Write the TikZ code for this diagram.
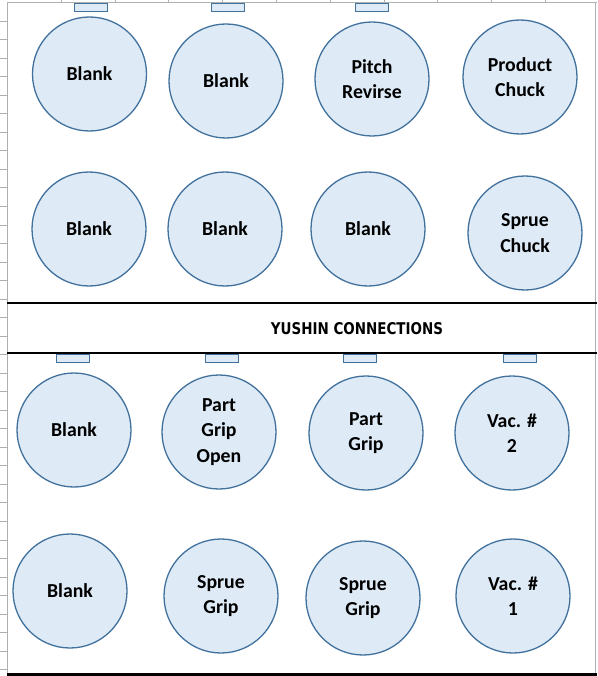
\documentclass[tikz,border=0pt]{standalone}
\usepackage{fontspec}
\setmainfont{Carlito}
\newfontfamily\hdfont{DejaVu Sans Condensed}
\definecolor{cfill}{HTML}{DEEBF7}
\definecolor{cline}{HTML}{41719C}
\definecolor{grid}{HTML}{B0B0B0}
\begin{document}
\begin{tikzpicture}[x=1pt,y=-1pt,
  disc/.style={circle,draw=cline,fill=cfill,line width=1.3pt,minimum size=114pt,inner sep=0pt,
    align=center,font=\fontsize{19.8}{25.5}\selectfont\bfseries,text=black},
  tab/.style={draw=cline,fill=cfill,line width=0.9pt,minimum width=33pt,minimum height=8pt,inner sep=0pt},
  sep/.style={line width=2.4pt,black}]
\useasboundingbox (0,0) rectangle (597,676);
\fill[white] (0,0) rectangle (597,676);
% sheet grid edges
\draw[grid,line width=0.8pt] (7,676) -- (7,2) -- (597,2);
\draw[grid,line width=0.8pt] (595,2) -- (595,676);
\foreach \k in {0,...,35} \draw[grid,line width=0.6pt] (0,{21+18.53*\k}) -- (7,{21+18.53*\k});
\foreach \k in {0,...,9} \draw[grid,line width=0.6pt] ({61+53.8*\k},0) -- ({61+53.8*\k},2);
% separators
\draw[sep] (7,303) -- (597,303);
\draw[sep] (7,353) -- (597,353);
\draw[line width=3pt] (7,674.5) -- (597,674.5);
\node[font=\hdfont\bfseries] (title) at (357,329) {\resizebox{172pt}{12pt}{YUSHIN CONNECTIONS}};
% tabs top
\node[tab] (t1) at (90.5,7) {};
\node[tab] (t2) at (228,7) {};
\node[tab] (t3) at (371.5,7) {};
% tabs lower
\node[tab] (t4) at (72.5,358) {};
\node[tab] (t5) at (221.5,358) {};
\node[tab] (t6) at (359.5,358) {};
\node[tab] (t7) at (519.5,358) {};
% row 1
\node[disc] (a1) at (89.5,74) {Blank};
\node[disc] (a2) at (226,81) {Blank};
\node[disc] (a3) at (372,79) {Pitch\\Revirse};
\node[disc] (a4) at (520,77) {Product\\Chuck};
% row 2
\node[disc] (b1) at (89,229) {Blank};
\node[disc] (b2) at (225,229) {Blank};
\node[disc] (b3) at (368,229) {Blank};
\node[disc] (b4) at (525,233) {Sprue\\Chuck};
% row 3
\node[disc] (c1) at (74,430) {Blank};
\node[disc] (c2) at (219,432) {Part\\Grip\\Open};
\node[disc] (c3) at (366,433) {Part\\Grip};
\node[disc] (c4) at (512,433) {Vac. \#\\2};
% row 4
\node[disc] (d1) at (70,591) {Blank};
\node[disc] (d2) at (221,596) {Sprue\\Grip};
\node[disc] (d3) at (363,598) {Sprue\\Grip};
\node[disc] (d4) at (513,596) {Vac. \#\\1};
\end{tikzpicture}
\end{document}
